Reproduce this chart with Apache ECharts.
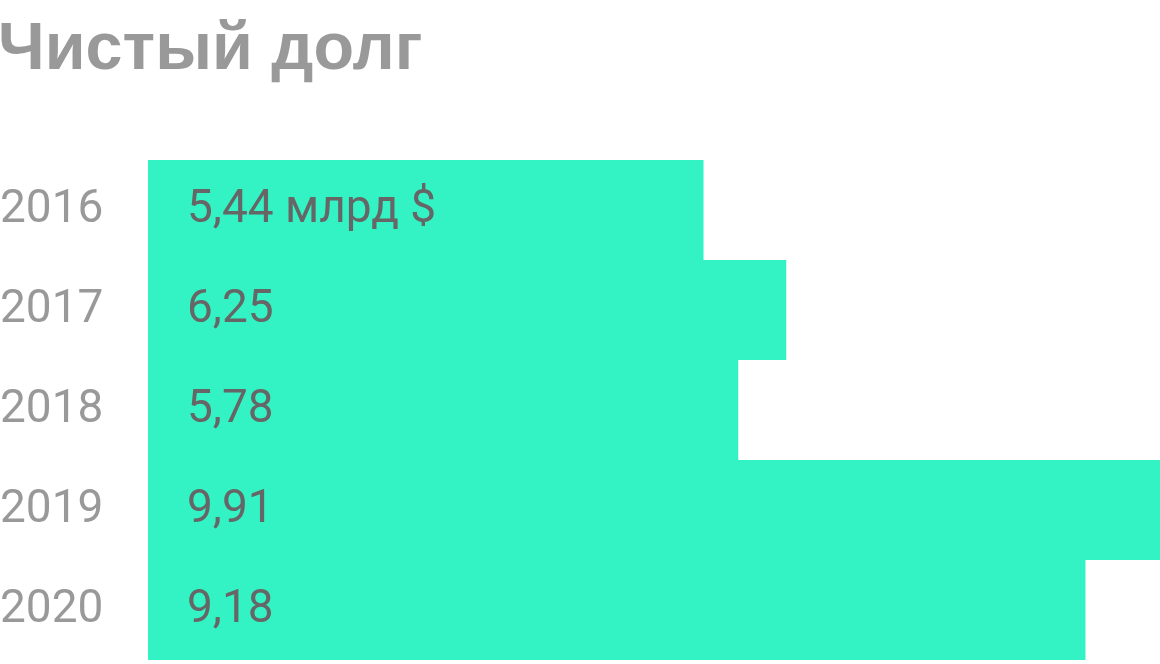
<!DOCTYPE html>
<html><head><meta charset="utf-8">
<script src="https://cdn.jsdelivr.net/npm/echarts@6/dist/echarts.min.js"></script>
<style>html,body{margin:0;padding:0;background:#fff}#c{width:1160px;height:664px}</style>
</head><body><div id="c"></div>
<script>
const years = ['2016','2017','2018','2019','2020'];
const values = [5.44, 6.25, 5.78, 9.91, 9.18];
const labels = ['5,44 млрд $','6,25','5,78','9,91','9,18'];
const title = 'Чистый долг';

const chart = echarts.init(document.getElementById('c'));
chart.setOption({
  animation:false,
  title:{text:title,left:-2,top:17,padding:0,textStyle:{fontFamily:'Liberation Sans',fontWeight:'bold',fontSize:66.5,color:'#999999'}},
  grid:{left:148,right:0,top:160,bottom:4,containLabel:false,outerBoundsMode:'none'},
  xAxis:{type:'value',min:0,max:9.91,show:false},
  yAxis:{type:'category',data:years,inverse:true,
    axisLine:{show:false},axisTick:{show:false},
    axisLabel:{align:'left',margin:148,padding:[4,0,0,0],fontFamily:'Roboto',fontSize:46,color:'#999999'}},
  series:[{type:'bar',data:values,barCategoryGap:0,itemStyle:{color:'#33F3C4'},
    label:{show:true,position:'insideLeft',distance:39,padding:[4,0,0,0],fontFamily:'Roboto',fontSize:46,color:'#666666',
      formatter:p=>labels[p.dataIndex]}}]
});
</script></body></html>
